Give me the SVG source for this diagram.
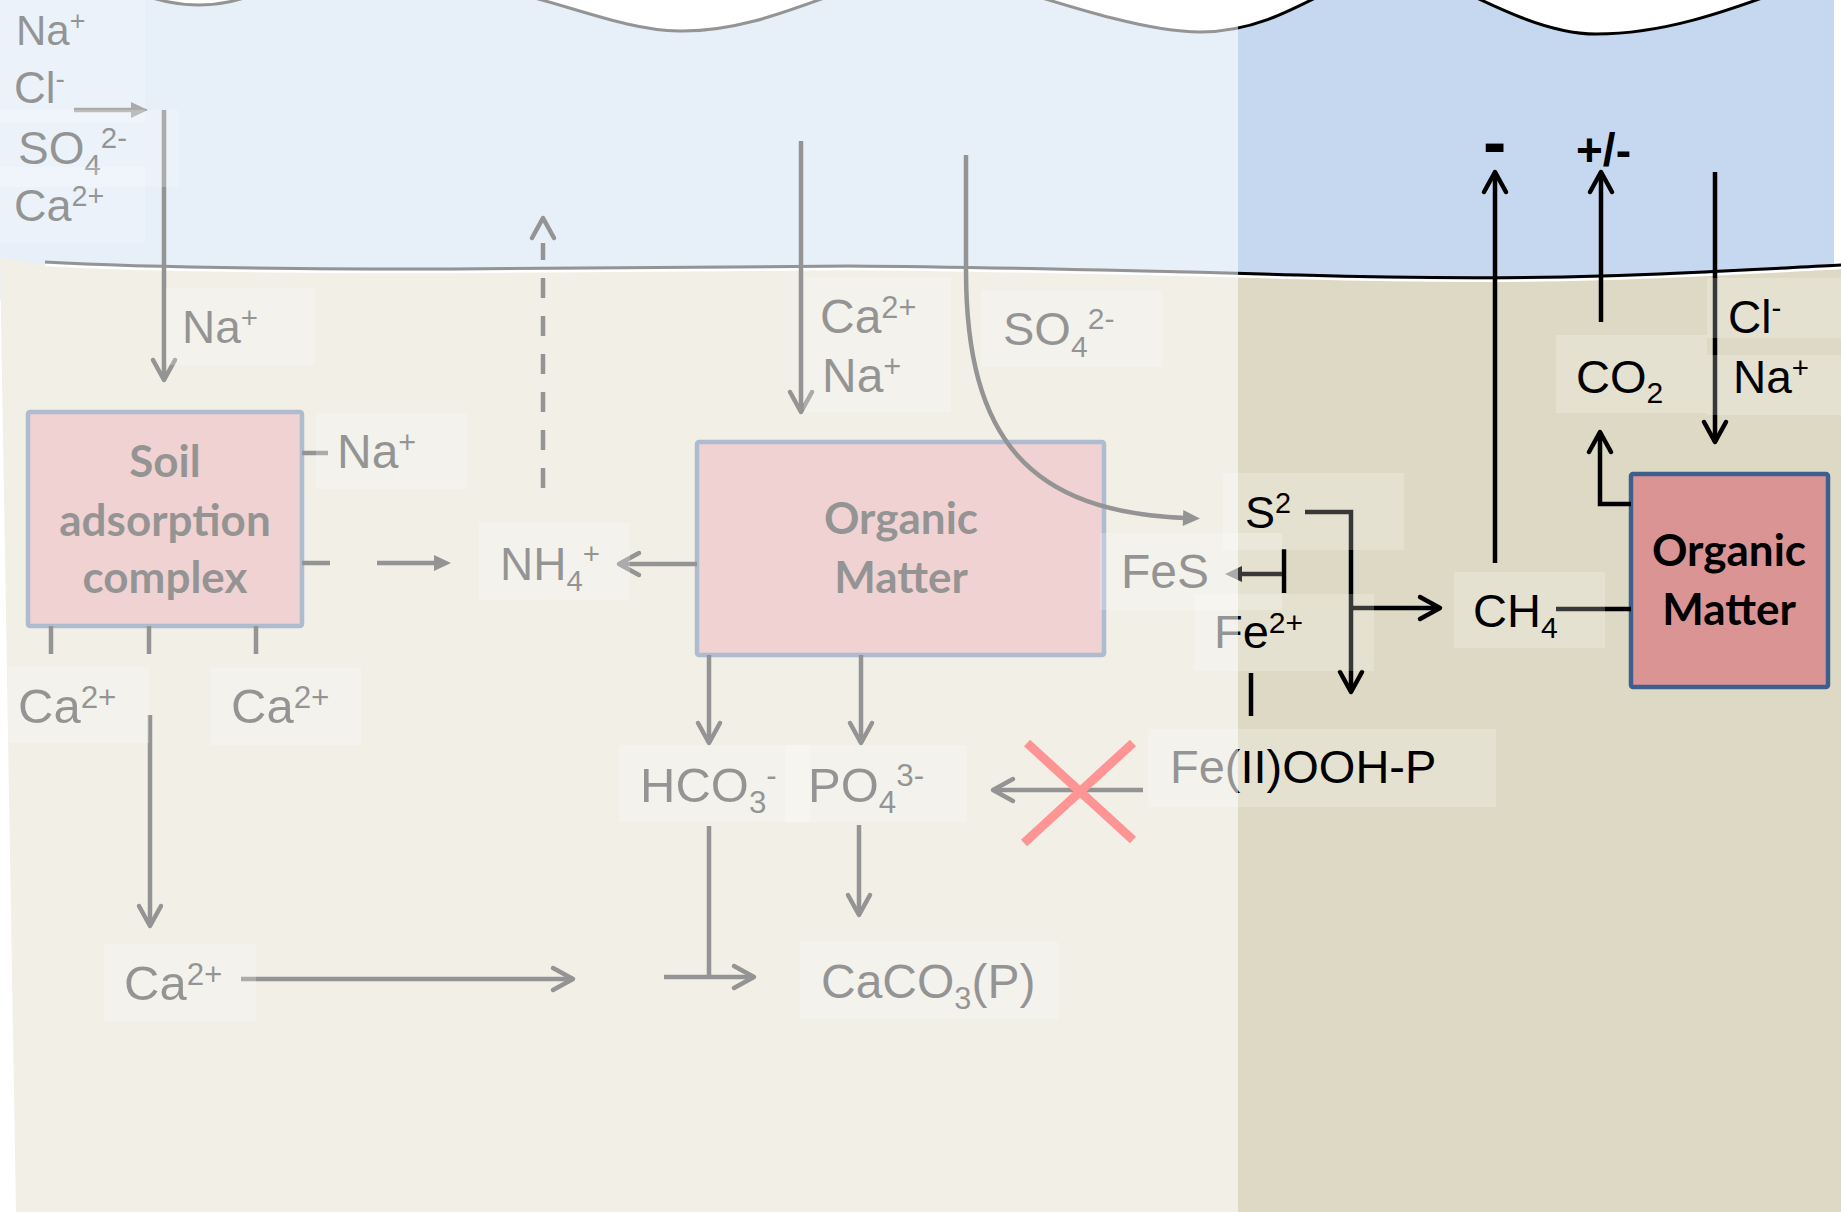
<svg xmlns="http://www.w3.org/2000/svg" width="1841" height="1212" viewBox="0 0 1841 1212">
<style>
.t{font-family:"Liberation Sans",Arial,sans-serif;fill:#000}
.b{font-family:Lato,"Liberation Sans",sans-serif;font-weight:700;fill:#000;text-anchor:middle;font-size:44px}
.s{font-size:0.64em}
.bg{fill:#fff;fill-opacity:0.22}
.c{fill:none;stroke:#000;stroke-width:4.5}
.box{fill:#db9494;stroke:#3c5f8e;stroke-width:4.5}
</style>
<defs>
<marker id="ch" markerUnits="userSpaceOnUse" markerWidth="60" markerHeight="60" viewBox="-30 -30 60 60" refX="0" refY="0" orient="auto" overflow="visible">
<path d="M-20,-11 L0,0 L-20,11" fill="none" stroke="#000" stroke-width="4.5" stroke-linecap="round" stroke-linejoin="round"/>
</marker>
<marker id="tri" markerUnits="userSpaceOnUse" markerWidth="60" markerHeight="60" viewBox="-30 -30 60 60" refX="0" refY="0" orient="auto" overflow="visible">
<path d="M-3,-8 L14,0 L-3,8 Z" fill="#000"/>
</marker>
</defs>

<!-- background scene -->
<rect x="0" y="0" width="1841" height="1212" fill="#fff"/>
<rect x="0" y="0" width="1834" height="300" fill="#c5d8ef"/>
<path d="M-5,-60 L-5,-15 L120,-15 Q200,25 275,-15 L480,-15 C560,0 620,30 679,31 C740,32 790,10 860,-15 L1000,-15 C1080,10 1150,32 1200,32 C1260,32 1300,5 1360,-25 L1440,-20 C1500,10 1550,34 1596,34 C1660,34 1720,15 1810,-20 L1846,-20 L1846,-60 Z" fill="#fff"/>
<path d="M120,-15 Q200,25 275,-15 M480,-15 C560,0 620,30 679,31 C740,32 790,10 860,-15 M1000,-15 C1080,10 1150,32 1200,32 C1260,32 1300,5 1360,-25 M1440,-20 C1500,10 1550,34 1596,34 C1660,34 1720,15 1810,-20" fill="none" stroke="#000" stroke-width="3"/>
<path d="M0,257 L45,265 C150,271 300,272 450,272 C600,272 750,269 850,269 C1000,270 1150,274 1300,278 C1400,281 1500,282 1600,279 C1700,276 1780,271 1841,268 L1841,1212 L16,1212 Z" fill="#ded9c4"/>
<path d="M45,265 C150,271 300,272 450,272 C600,272 750,269 850,269 C1000,270 1150,274 1300,278 C1400,281 1500,282 1600,279 C1700,276 1780,271 1841,268" fill="none" stroke="#fff" stroke-width="2.5"/>
<path d="M45,262 C150,268 300,269 450,269 C600,269 750,266 850,266 C1000,267 1150,271 1300,275 C1400,278 1500,279 1600,276 C1700,273 1780,268 1841,265" fill="none" stroke="#000" stroke-width="3"/>

<!-- box nodes -->
<g id="soil-complex"><rect class="box" x="28" y="412" width="274" height="214" rx="2"/><text class="b" x="165" y="477">Soil</text><text class="b" x="165" y="536">adsorption</text><text class="b" x="165" y="593">complex</text></g>
<g id="organic-left"><rect class="box" x="697" y="442" width="407" height="213" rx="2"/><text class="b" x="901" y="534">Organic</text><text class="b" x="901" y="593">Matter</text></g>
<g id="organic-right"><rect class="box" x="1631" y="474" width="197" height="213" rx="2"/><text class="b" x="1729" y="566">Organic</text><text class="b" x="1729" y="625">Matter</text></g>

<!-- connectors -->
<g id="connectors">
<path class="c" d="M74,110 H134" marker-end="url(#tri)"/>
<path class="c" d="M164,110 V380" marker-end="url(#ch)"/>
<path class="c" d="M543,488 V243" stroke-dasharray="20 18"/>
<path class="c" d="M532,238 L543,218 L554,238" stroke-linecap="round" stroke-linejoin="round"/>
<path class="c" d="M302,453 H328"/>
<path class="c" d="M302,563 H330"/>
<path class="c" d="M377,563 H437" marker-end="url(#tri)"/>
<path class="c" d="M697,564 H619" marker-end="url(#ch)"/>
<path class="c" d="M51,626 V654 M149,626 V654 M256,626 V654"/>
<path class="c" d="M150,715 V926" marker-end="url(#ch)"/>
<path class="c" d="M241,979 H573" marker-end="url(#ch)"/>
<path class="c" d="M801,141 V412" marker-end="url(#ch)"/>
<path class="c" d="M966,155 V270 C966,440 1030,512 1186,518" marker-end="url(#tri)"/>
<path class="c" d="M709,655 V743" marker-end="url(#ch)"/>
<path class="c" d="M861,655 V743" marker-end="url(#ch)"/>
<path class="c" d="M709,826 V977"/>
<path class="c" d="M664,977 H754" marker-end="url(#ch)"/>
<path class="c" d="M859,825 V915" marker-end="url(#ch)"/>
<path class="c" d="M1143,790 H993" marker-end="url(#ch)"/>
<path d="M1027,743 L1133,840 M1133,743 L1024,843" fill="none" stroke="#f00" stroke-width="9"/>
<path class="c" d="M1305,512 H1351 V692" marker-end="url(#ch)"/>
<path class="c" d="M1351,608 H1440" marker-end="url(#ch)"/>
<path class="c" d="M1284,549 V593"/>
<path class="c" d="M1284,574 H1239" marker-end="url(#tri)"/>
<path class="c" d="M1251,673 V716"/>
<path class="c" d="M1556,609 H1631"/>
<path class="c" d="M1495,563 V172" marker-end="url(#ch)"/>
<path class="c" d="M1631,504 H1600 V432" marker-end="url(#ch)"/>
<path class="c" d="M1601,322 V172" marker-end="url(#ch)"/>
<path class="c" d="M1715,172 V442" marker-end="url(#ch)"/>
</g>

<!-- label nodes -->
<g id="water-na"><rect class="bg" x="0" y="0" width="145" height="62"/><text class="t" x="16" y="45" font-size="42">Na<tspan class="s" dy="-15">+</tspan></text></g>
<g id="water-cl"><rect class="bg" x="0" y="62" width="145" height="60"/><text class="t" x="14" y="103" font-size="44">Cl<tspan class="s" dy="-15">-</tspan></text></g>
<g id="water-so4"><rect class="bg" x="0" y="110" width="178" height="77"/><text class="t" x="18" y="164" font-size="46">SO<tspan class="s" dy="11">4</tspan><tspan class="s" dy="-27">2-</tspan></text></g>
<g id="water-ca"><rect class="bg" x="0" y="167" width="145" height="76"/><text class="t" x="14" y="221" font-size="45">Ca<tspan class="s" dy="-15">2+</tspan></text></g>
<g id="na-soil"><rect class="bg" x="166" y="288" width="148" height="77"/><text class="t" x="182" y="343" font-size="46">Na<tspan class="s" dy="-15">+</tspan></text></g>
<g id="na-box"><rect class="bg" x="316" y="413" width="151" height="76"/><text class="t" x="337" y="468" font-size="48">Na<tspan class="s" dy="-15">+</tspan></text></g>
<g id="nh4"><rect class="bg" x="479" y="523" width="151" height="77"/><text class="t" x="500" y="580" font-size="46">NH<tspan class="s" dy="11">4</tspan><tspan class="s" dy="-27">+</tspan></text></g>
<g id="ca-left"><rect class="bg" x="8" y="667" width="141" height="76"/><text class="t" x="18" y="723" font-size="49">Ca<tspan class="s" dy="-15">2+</tspan></text></g>
<g id="ca-right"><rect class="bg" x="210" y="668" width="151" height="77"/><text class="t" x="231" y="723" font-size="49">Ca<tspan class="s" dy="-15">2+</tspan></text></g>
<g id="ca-bottom"><rect class="bg" x="104" y="944" width="152" height="77"/><text class="t" x="124" y="1000" font-size="49">Ca<tspan class="s" dy="-15">2+</tspan></text></g>
<g id="ca-mid"><rect class="bg" x="804" y="277" width="147" height="58"/><text class="t" x="820" y="333" font-size="48">Ca<tspan class="s" dy="-15">2+</tspan></text></g>
<g id="na-mid"><rect class="bg" x="804" y="335" width="147" height="77"/><text class="t" x="822" y="392" font-size="48">Na<tspan class="s" dy="-15">+</tspan></text></g>
<g id="so4-mid"><rect class="bg" x="981" y="290" width="181" height="77"/><text class="t" x="1003" y="345" font-size="47">SO<tspan class="s" dy="12">4</tspan><tspan class="s" dy="-28">2-</tspan></text></g>
<g id="hco3"><rect class="bg" x="619" y="745" width="191" height="77"/><text class="t" x="640" y="802" font-size="49">HCO<tspan class="s" dy="11">3</tspan><tspan class="s" dy="-27">-</tspan></text></g>
<g id="po4"><rect class="bg" x="785" y="745" width="182" height="77"/><text class="t" x="808" y="802" font-size="49">PO<tspan class="s" dy="11">4</tspan><tspan class="s" dy="-27">3-</tspan></text></g>
<g id="caco3"><rect class="bg" x="800" y="942" width="258" height="77"/><text class="t" x="821" y="998" font-size="48">CaCO<tspan class="s" dy="11">3</tspan><tspan dy="-11">(P)</tspan></text></g>
<g id="fes"><rect class="bg" x="1100" y="533" width="182" height="77"/><text class="t" x="1121" y="588" font-size="48">FeS</text></g>
<g id="s2"><rect class="bg" x="1223" y="473" width="181" height="77"/><text class="t" x="1245" y="528" font-size="45">S<tspan class="s" dy="-15">2</tspan></text></g>
<g id="fe2"><rect class="bg" x="1194" y="594" width="180" height="77"/><text class="t" x="1214" y="648" font-size="47">Fe<tspan class="s" dy="-15">2+</tspan></text></g>
<g id="feooh"><rect class="bg" x="1148" y="729" width="348" height="78"/><text class="t" x="1170" y="783" font-size="47">Fe(II)OOH-P</text></g>
<g id="ch4"><rect class="bg" x="1454" y="572" width="151" height="76"/><text class="t" x="1473" y="627" font-size="47">CH<tspan class="s" dy="11">4</tspan></text></g>
<g id="co2"><rect class="bg" x="1556" y="335" width="151" height="78"/><text class="t" x="1576" y="393" font-size="47">CO<tspan class="s" dy="10">2</tspan></text></g>
<g id="cl-right"><rect class="bg" x="1707" y="278" width="134" height="60"/><text class="t" x="1728" y="333" font-size="46">Cl<tspan class="s" dy="-15">-</tspan></text></g>
<g id="na-right"><rect class="bg" x="1707" y="355" width="134" height="60"/><text class="t" x="1733" y="393" font-size="46">Na<tspan class="s" dy="-15">+</tspan></text></g>
<g id="minus"><text class="t" x="1483" y="166" font-size="70" font-weight="700">-</text></g>
<g id="plusminus"><text class="t" x="1576" y="166" font-size="46" font-weight="700">+/-</text></g>

<!-- fade overlay on left part -->
<rect x="0" y="0" width="1238" height="1212" fill="#fff" fill-opacity="0.58"/>
</svg>
